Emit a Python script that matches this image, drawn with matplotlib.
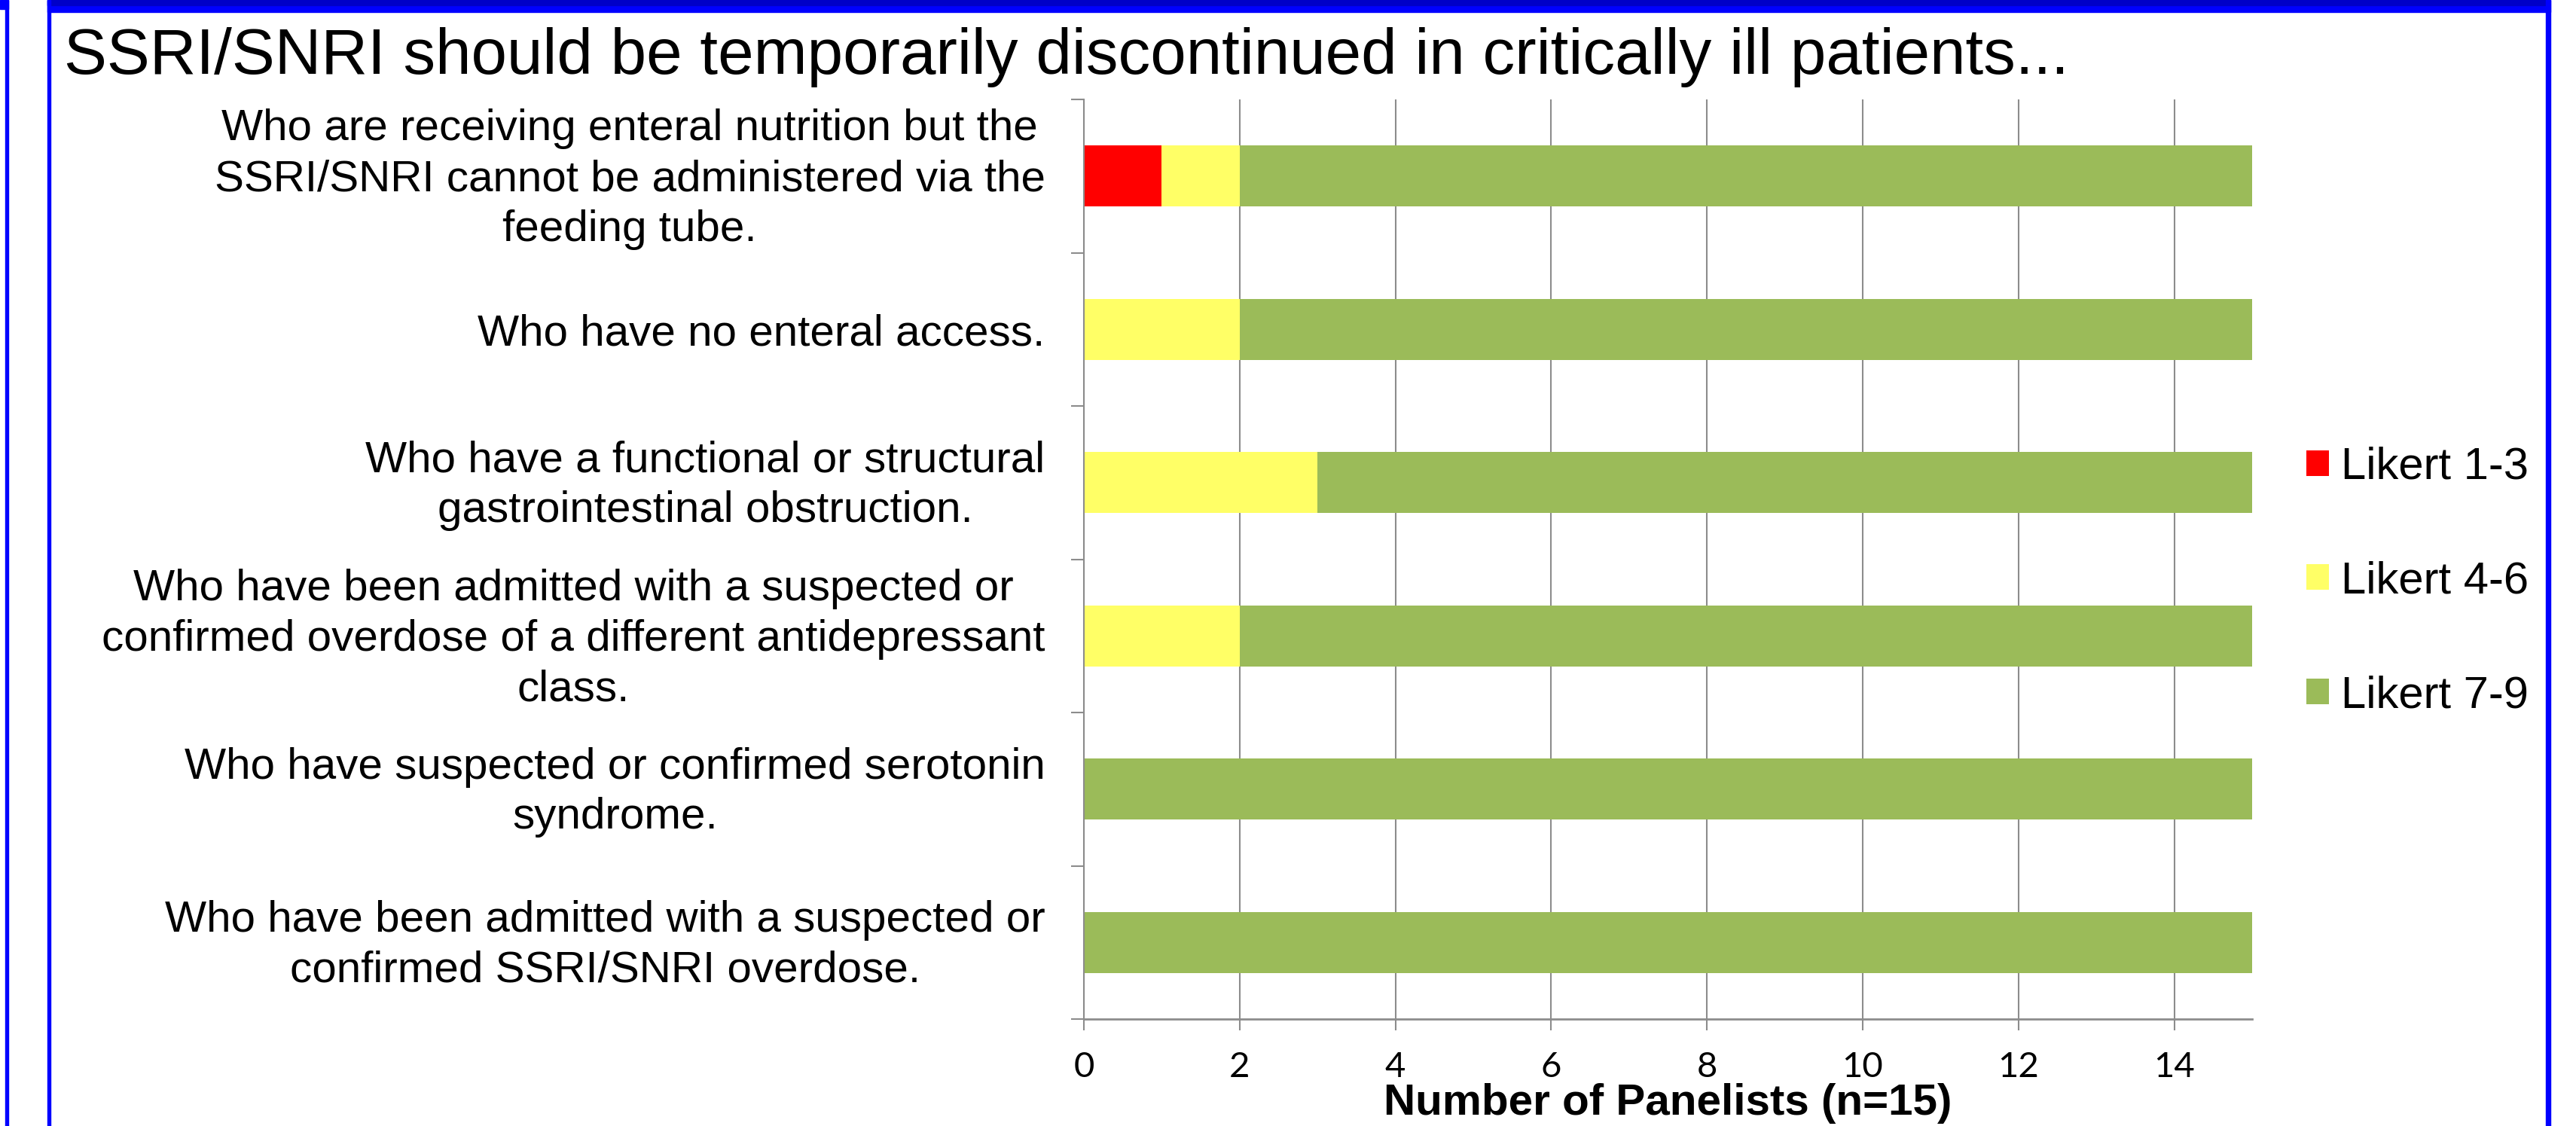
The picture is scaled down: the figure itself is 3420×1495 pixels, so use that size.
import matplotlib.pyplot as plt
from matplotlib.patches import Rectangle
import matplotlib.transforms as mtransforms
import numpy as np

# data, top row first
questions = [
    'Who are receiving enteral nutrition but the\nSSRI/SNRI cannot be administered via the\nfeeding tube.',
    'Who have no enteral access.',
    'Who have a functional or structural\ngastrointestinal obstruction.',
    'Who have been admitted with a suspected or\nconfirmed overdose of a different antidepressant\nclass.',
    'Who have suspected or confirmed serotonin\nsyndrome.',
    'Who have been admitted with a suspected or\nconfirmed SSRI/SNRI overdose.',
]
likert_1_3 = [1, 0, 0, 0, 0, 0]
likert_4_6 = [1, 2, 3, 2, 0, 0]
likert_7_9 = [13, 13, 12, 13, 15, 15]
series_names = ['Likert 1-3', 'Likert 4-6', 'Likert 7-9']
series_colors = ['#FF0000', '#FFFF66', '#9BBB59']
x_ticks = [0, 2, 4, 6, 8, 10, 12, 14]

W, H = 3420, 1495
fig = plt.figure(figsize=(W / 100, H / 100), dpi=100)
plt.rcParams['font.family'] = ['Liberation Sans', 'DejaVu Sans']

# blue slide frame
blue = '#0000FF'
fig.patches.append(Rectangle((63 / W, 1 - 16 / H), (3386 - 63) / W, 16 / H,
                             transform=fig.transFigure, color=blue, zorder=0))
fig.patches.append(Rectangle((63 / W, 1 - 7 / H), (3380 - 63) / W, 7 / H,
                             transform=fig.transFigure, color='#0000C8', zorder=0))
fig.patches.append(Rectangle((7 / W, 0), 4 / W, 1, transform=fig.transFigure, color=blue, zorder=0))
fig.patches.append(Rectangle((0, 1 - 12 / H), 11 / W, 12 / H, transform=fig.transFigure, color=blue, zorder=0))
fig.patches.append(Rectangle((63 / W, 0), 4 / W, 1, transform=fig.transFigure, color=blue, zorder=0))
fig.patches.append(Rectangle((3380 / W, 0), 6 / W, 1, transform=fig.transFigure, color=blue, zorder=0))

fig.text(85 / W, 1 - 98 / H, 'SSRI/SNRI should be temporarily discontinued in critically ill patients...',
         fontsize=61.5, va='baseline', ha='left')

ax = fig.add_axes([1439 / W, 1 - 1353 / H, (2990 - 1439) / W, (1353 - 132) / H])

y = np.arange(len(questions))
left = np.zeros(len(questions))
for vals, name, col in zip([likert_1_3, likert_4_6, likert_7_9], series_names, series_colors):
    ax.barh(y, vals, left=left, height=0.4, color=col, label=name, zorder=2)
    left = left + np.array(vals)

ax.set_xlim(0, 15)
ax.set_ylim(len(questions) - 0.5, -0.5)
ax.set_xticks(x_ticks)
ax.set_xticklabels([str(t) for t in x_ticks], fontsize=34, family=['Lato', 'DejaVu Sans'])
ax.set_yticks(y)
ax.set_yticklabels(questions, fontsize=42, ha='right', multialignment='center', linespacing=1.3)
ax.set_yticks(np.arange(-0.5, len(questions), 1), minor=True)
ax.tick_params(axis='y', which='major', length=0, pad=37)
ax.tick_params(axis='y', which='minor', length=12, width=1.5, color='#8C8C8C')
ax.tick_params(axis='x', length=11, width=1.5, color='#8C8C8C', pad=20)

# multi-line labels sit a bit high in the original
shift = mtransforms.ScaledTranslation(0, 8 / 100, fig.dpi_scale_trans)
for lbl in ax.get_yticklabels():
    if '\n' in lbl.get_text():
        lbl.set_transform(lbl.get_transform() + shift)

ax.grid(axis='x', color='#8C8C8C', linewidth=1.5, zorder=0)
for s in ['top', 'right']:
    ax.spines[s].set_visible(False)
ax.spines['left'].set_color('#8C8C8C')
ax.spines['left'].set_linewidth(1.5)
ax.spines['bottom'].set_color('#8C8C8C')
ax.spines['bottom'].set_linewidth(2)
ax.set_axisbelow(True)

ax.set_xlabel('Number of Panelists (n=15)', fontsize=42, fontweight='bold')
ax.xaxis.label.set_va('baseline')
ax.xaxis.set_label_coords(0.5, (1353 - 1480) / 1221)

ax.legend(loc='center left', bbox_to_anchor=(3062 / W, 1 - 772 / H), bbox_transform=fig.transFigure,
          frameon=False, fontsize=43, handlelength=0.5, handleheight=0.5, handletextpad=0.27,
          labelspacing=1.62, borderpad=0, borderaxespad=0)

fig.savefig('out.png', dpi=100)
